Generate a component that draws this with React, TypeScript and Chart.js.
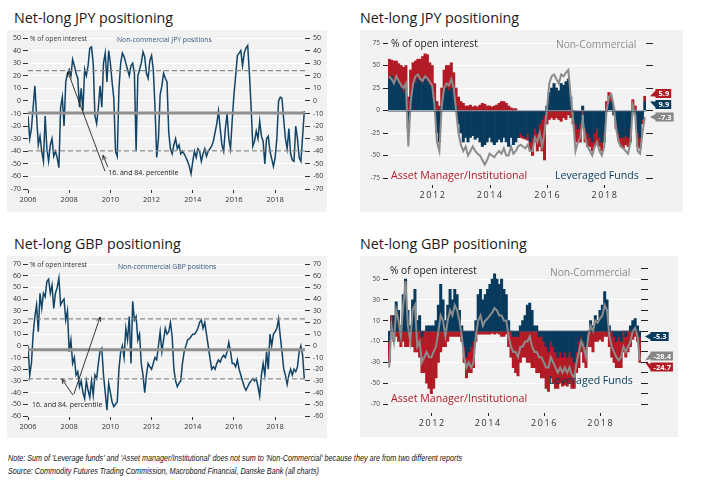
import React, { useEffect, useRef } from "react";
import { Chart, registerables } from "chart.js";

Chart.register(...registerables);

// ---------------- data ----------------
const leftYearTicks = [2006, 2008, 2010, 2012, 2014, 2016, 2018];
const rightYearTicks = [2012, 2014, 2016, 2018];
const leftFirstMonth = 2006; // Jan 2006, monthly observations
const rightFirstMonth = 2010.5; // Jul 2010, monthly observations

// Non-commercial JPY positions, % of open interest (Jan 2006 - Jun 2019)
const jpyNonCommercialLong = [
  -12, -30, -22, -5, 12, -12, -35, -28, -40, -48, -12, -38,
  -48, -35, -30, -44, -40, -45, -53, -5, 3, -20, 15, 22,
  25, 20, 33, 28, 22, 18, -5, 10, -8, 25, 20, 28,
  42, 43, 30, -12, -18, -5, 12, -5, 30, 38, 15, 40,
  30, 15, 2, -40, -44, 10, 30, 38, 35, 30, 25, 20,
  28, 30, 22, -40, 20, 25, 30, 39, 35, 22, 18, 32,
  36, 25, -5, -45, -30, 5, 12, 22, 18, 15, -25, -38,
  -42, -35, -30, -38, -35, -42, -40, -42, -45, -48, -52, -58,
  -48, -40, -45, -38, -40, -48, -42, -38, -44, -40, -38, -36,
  -32, -25, -18, -8, -22, -35, -40, -22, -10, -30, -38, -15,
  5, 20, 36, 38, 40, 28, 38, 42, 44, 22, -5, -36,
  -32, -24, -30, -16, -28, -32, -50, -30, -28, -40, -46, -52,
  -45, -30, 0, 3, 2, -15, -30, -38, -22, -42, -47, -48,
  -20, -30, -45, -48, -28, -8,
];
const jpyPercentile84 = 24;
const jpyPercentile16 = -39.7;
const jpyAverage = -9.7;

// Non-commercial GBP positions, % of open interest (Jan 2006 - Jun 2019)
const gbpNonCommercialLong = [
  0, -25, -15, 10, 25, 35, 12, 45, 32, 45, 42, 55,
  57, 45, 52, 32, 45, 50, 58, 35, 38, 40, 22, 30,
  -5, 5, -15, -10, -25, -22, -35, -30, -40, -45, -30, -38,
  -44, -30, -42, -25, -28, -15, -4, -2, -25, -40, -55, -32,
  -40, -48, -52, -50, -48, -20, -5, 0, -10, 15, 5, 25,
  -15, 38, 22, 25, 5, 10, -15, -25, -40, -25, -15, -18,
  -20, -15, -10, -12, 0, 12, -5, 5, 15, 10, 12, 20,
  8, -20, -30, -35, -32, -30, -15, -5, 0, 5, 6, 8,
  10, 10, 12, 15, 20, 22, 15, 20, 10, 0, -10, -20,
  -18, -20, -15, -12, -14, -10, -8, -10, -5, 3, -5, -15,
  -15, -18, -12, -20, -25, -30, -35, -38, -35, -32, -30, -28,
  -30, -28, -35, -43, -25, -15, -25, -5, -20, 10, 0, 10,
  12, 15, 23, 8, -5, -20, -25, -33, -25, -20, -25, -20,
  -22, -18, -5, 0, -8, -28,
];
const gbpPercentile84 = 23.1;
const gbpPercentile16 = -28.3;
const gbpAverage = -3.4;

// JPY, % of open interest (Jul 2010 - Jun 2019)
const jpyLeveragedFunds = [
  35, 38, 30, 35, 30, 25,
  20, 25, -20, 15, 25, 30, 35, 32, 30, 35, 32, 28,
  25, 10, -25, -35, 5, 20, 25, 22, 25, 20, 5, -15,
  -25, -35, -30, -35, -30, -28, -32, -30, -35, -40, -38, -35,
  -30, -35, -38, -35, -32, -35, -30, -35, -40, -30, -38, -35,
  -30, -25, -28, -30, -25, -35, -30, -20, -25, -15, -10, -5,
  5, 20, 25, 30, 25, 22, 30, 28, 32, 35, 15, 0,
  -15, -20, -15, 5, -20, -25, -30, -35, -25, -20, -30, -35,
  -25, 0, 8, 10, -5, -15, -25, -30, -30, -28, -30, -20,
  0, -5, -25, -30, -10, 9.9,
];
const jpyAssetManager = [
  22, 18, 25, 20, 22, 25,
  28, 25, 15, 30, 28, 25, 22, 25, 30, 28, 30, 25,
  25, 20, 10, 5, 20, 25, 25, 28, 28, 22, 20, 15,
  10, 8, 5, 5, 6, 4, 5, 4, 6, 8, 7, 5,
  5, 4, 5, 6, 8, 10, 10, 8, 5, 3, 2, 2,
  0, -5, -3, -2, -8, -10, -20, -15, -20, -25, -35, -50,
  -15, -10, -8, -10, -8, -10, -12, -8, -10, -5, -8, -15,
  -20, -15, -20, -5, -15, -15, -10, -10, -15, -15, -10, -10,
  -10, 10, 12, 5, 2, -5, -8, -10, -12, -10, -10, -15,
  12, 5, -15, -12, -5, 5.9,
];
const jpyNonCommercial = [
  38, 35, 30, 38, 33, 28,
  25, 30, -40, 10, 30, 38, 40, 35, 33, 38, 36, 32,
  28, 5, -35, -45, 5, 25, 30, 28, 35, 25, 0, -25,
  -38, -45, -40, -50, -45, -40, -45, -48, -50, -55, -60, -55,
  -48, -50, -52, -48, -45, -48, -42, -50, -50, -40, -48, -45,
  -40, -38, -40, -42, -38, -45, -45, -30, -35, -25, -40, -25,
  0, 30, 38, 40, 35, 30, 40, 38, 42, 45, 15, -10,
  -45, -35, -30, -10, -30, -40, -45, -50, -40, -35, -45, -50,
  -40, 0, 15, 18, 5, -20, -35, -40, -42, -45, -48, -35,
  5, -5, -45, -48, -25, -7.3,
];

// GBP, % of open interest (Jul 2010 - Jun 2019)
const gbpLeveragedFunds = [
  -10, 5, 15, 28, 20, 5,
  35, 50, 20, 5, 30, 40, 10, 15, -5, 0, 5, 5,
  5, 5, 10, 25, 45, 30, 10, 25, 40, 30, 40, 35,
  20, 5, -15, -25, -20, -15, -10, 10, 35, 40, 30, 35,
  40, 45, 50, 55, 50, 45, 50, 40, 35, 10, 0, -5,
  -5, -5, 5, 10, 15, 25, 27, 20, 5, 5, -5, -5,
  -10, -15, -20, -10, -15, -20, -25, -20, -25, -20, -25, -20,
  -25, -30, -20, -10, -5, -10, -15, 0, 10, 5, 15, 10,
  20, 25, 38, 30, 5, 0, -5, -10, -5, -10, 0, -5,
  0, 5, 10, 12, 5, -5.3,
];
const gbpAssetManager = [
  -20, 10, -10, -5, -10, -15,
  -10, -15, -15, -10, -15, -20, -20, -25, -35, -40, -50, -55,
  -60, -55, -45, -30, -20, -15, -15, -10, -5, -5, -5, -5,
  -5, -10, -15, -20, -20, -25, -25, -10, -3, -3, -3, -3,
  -3, -3, -2, -3, -2, -3, -5, -5, -3, -15, -25, -30,
  -35, -38, -30, -25, -25, -30, -30, -35, -35, -40, -35, -40,
  -35, -40, -38, -35, -35, -35, -30, -30, -28, -32, -28, -30,
  -30, -25, -20, -25, -15, -20, -20, -15, -15, -20, -10, -10,
  -8, -10, -5, -5, -15, -25, -25, -25, -30, -25, -20, -20,
  -20, -15, -8, -5, -10, -24.7,
];
const gbpNonCommercial = [
  -35, 5, -10, 20, 10, -5,
  25, 48, 5, -10, 20, 25, -15, -10, -30, -25, -20, -25,
  -25, -20, -15, 0, 15, 10, -5, 10, 20, 15, 25, 20,
  10, -5, -25, -35, -30, -35, -30, -5, 10, 15, 5, 10,
  12, 15, 18, 22, 20, 15, 15, 10, 10, -5, -15, -20,
  -20, -25, -15, -15, -10, -10, -5, -15, -20, -20, -25, -25,
  -30, -35, -35, -25, -30, -35, -40, -35, -40, -35, -40, -35,
  -42, -45, -30, -20, -10, -15, -25, -5, 5, 0, 10, 8,
  12, 15, 25, 20, -5, -15, -20, -25, -28, -25, -15, -20,
  -15, -10, 0, 3, -5, -28.4,
];

// ---------------- styles ----------------
const FONT = '"Open Sans", "DejaVu Sans", sans-serif';
const NAVY = "#073a5c";
const NAVY_LINE = "#124467";
const RED = "#b21b25";
const GRAY = "#8c8c8c";
const PANEL = "#f2f2f2";

function drawArrow(ctx: CanvasRenderingContext2D, x0: number, y0: number, x1: number, y1: number) {
  ctx.beginPath();
  ctx.moveTo(x0, y0);
  ctx.lineTo(x1, y1);
  ctx.stroke();
  const a = Math.atan2(y1 - y0, x1 - x0);
  const L = 5;
  const s = 0.42;
  ctx.beginPath();
  ctx.moveTo(x1 - L * Math.cos(a - s), y1 - L * Math.sin(a - s));
  ctx.lineTo(x1, y1);
  ctx.lineTo(x1 - L * Math.cos(a + s), y1 - L * Math.sin(a + s));
  ctx.stroke();
}

type LeftSpec = {
  values: number[];
  p84: number;
  p16: number;
  avg: number;
  yMin: number;
  yMax: number;
  xMax: number;
  top: number;
  xHeight: number;
  arrows: number[][];
  noteAt: number[];
};

function leftConfig(s: LeftSpec): any {
  const flat = (v: number) => [
    { x: leftFirstMonth, y: v },
    { x: s.xMax, y: v },
  ];
  const tickFont = { family: FONT, size: 7 };
  const notePlugin = {
    id: "note",
    afterDatasetsDraw(chart: any) {
      const { ctx } = chart;
      const x = chart.scales.x;
      const y = chart.scales.y;
      ctx.save();
      ctx.strokeStyle = "#222";
      ctx.lineWidth = 0.9;
      for (const [x0, y0, x1, y1] of s.arrows) {
        drawArrow(ctx, x.getPixelForValue(x0), y.getPixelForValue(y0), x.getPixelForValue(x1), y.getPixelForValue(y1));
      }
      ctx.fillStyle = "#222";
      ctx.font = `7px ${FONT}`;
      ctx.textBaseline = "middle";
      ctx.textAlign = "left";
      ctx.fillText("16. and 84. percentile", x.getPixelForValue(s.noteAt[0]), y.getPixelForValue(s.noteAt[1]));
      ctx.restore();
    },
  };
  return {
    type: "line",
    data: {
      datasets: [
        {
          data: s.values.map((v, i) => ({ x: leftFirstMonth + i / 12, y: v })),
          borderColor: NAVY_LINE,
          borderWidth: 1.5,
          pointRadius: 0,
          tension: 0,
          order: 3,
        },
        { data: flat(s.p84), borderColor: "#8a8a8a", borderWidth: 1.3, borderDash: [5, 3], pointRadius: 0, order: 2 },
        { data: flat(s.p16), borderColor: "#8a8a8a", borderWidth: 1.3, borderDash: [5, 3], pointRadius: 0, order: 2 },
        { data: flat(s.avg), borderColor: "#8f8f8f", borderWidth: 3, pointRadius: 0, order: 1 },
      ],
    },
    options: {
      responsive: false,
      animation: false,
      devicePixelRatio: 1,
      events: [],
      layout: { padding: { top: s.top, left: 0, right: 0, bottom: 0 } },
      plugins: { legend: { display: false }, tooltip: { enabled: false } },
      scales: {
        x: {
          type: "linear",
          min: leftFirstMonth,
          max: s.xMax,
          afterBuildTicks: (sc: any) => {
            sc.ticks = leftYearTicks.map((v) => ({ value: v }));
          },
          afterFit: (sc: any) => {
            sc.height = s.xHeight;
            sc.paddingLeft = 0;
            sc.paddingRight = 0;
          },
          grid: { drawOnChartArea: false, drawTicks: true, tickLength: 4, tickColor: "#333" },
          border: { display: false },
          ticks: {
            font: { family: FONT, size: 7.5 },
            color: "#333",
            padding: 2,
            maxRotation: 0,
            autoSkip: false,
            callback: (v: any) => String(v),
          },
        },
        y: {
          position: "left",
          min: s.yMin,
          max: s.yMax,
          ticks: { stepSize: 10, font: tickFont, color: "#333", padding: 2 },
          grid: { color: "#ffffff", lineWidth: 1, tickColor: "#333", tickLength: 5 },
          border: { display: false },
          afterFit: (sc: any) => {
            sc.width = 21;
            sc.paddingTop = 0;
            sc.paddingBottom = 0;
          },
        },
        y2: {
          position: "right",
          min: s.yMin,
          max: s.yMax,
          ticks: { stepSize: 10, font: tickFont, color: "#333", padding: 3 },
          grid: { drawOnChartArea: false, tickColor: "#333", tickLength: 5 },
          border: { display: false },
          afterFit: (sc: any) => {
            sc.width = 22;
            sc.paddingTop = 0;
            sc.paddingBottom = 0;
          },
        },
      },
    },
    plugins: [notePlugin],
  };
}

type RightSpec = {
  lf: number[];
  am: number[];
  nc: number[];
  yMin: number;
  yMax: number;
  step: number;
  labelIf: (v: number) => boolean;
  top: number;
  leftW: number;
  rightW: number;
  xHeight: number;
  labelDy: number;
};

function rightConfig(s: RightSpec): any {
  const n = s.lf.length;
  const xs = s.lf.map((_, i) => rightFirstMonth + i / 12);
  const lastLF = s.lf[n - 1];
  const lastAM = s.am[n - 1];
  const lastNC = s.nc[n - 1];
  const amLevel = Math.sign(lastAM) === Math.sign(lastLF) ? lastAM + lastLF : lastAM;
  const tags = [
    { level: lastLF, text: lastLF.toFixed(1), color: NAVY },
    { level: amLevel, text: lastAM.toFixed(1), color: RED },
    { level: lastNC, text: lastNC.toFixed(1), color: "#878787" },
  ];
  const extras = {
    id: "extras",
    afterDatasetsDraw(chart: any) {
      const { ctx, chartArea } = chart;
      const y = chart.scales.y;
      const x = chart.scales.x;
      ctx.save();
      // zero line
      const y0 = Math.round(y.getPixelForValue(0)) + 0.5;
      ctx.strokeStyle = "rgba(80,80,100,0.75)";
      ctx.lineWidth = 0.8;
      ctx.beginPath();
      ctx.moveTo(chartArea.left, y0);
      ctx.lineTo(chartArea.right, y0);
      ctx.stroke();
      // year labels and their small tick marks
      ctx.strokeStyle = "#222";
      ctx.lineWidth = 1;
      for (const yr of rightYearTicks) {
        const px = Math.round(x.getPixelForValue(yr)) + 0.5;
        ctx.beginPath();
        ctx.moveTo(px, chartArea.bottom + s.labelDy - 10);
        ctx.lineTo(px, chartArea.bottom + s.labelDy - 7);
        ctx.stroke();
      }
      ctx.fillStyle = "#333";
      ctx.font = `9px ${FONT}`;
      (ctx as any).letterSpacing = "1.6px";
      ctx.textAlign = "center";
      ctx.textBaseline = "middle";
      for (const yr of rightYearTicks) {
        ctx.fillText(String(yr), x.getPixelForValue(yr) + 0.8, chartArea.bottom + s.labelDy);
      }
      (ctx as any).letterSpacing = "0px";
      // last-value tags
      const items = tags
        .map((t) => ({ ...t, py: y.getPixelForValue(t.level), cy: y.getPixelForValue(t.level) }))
        .sort((a, b) => a.py - b.py);
      const gap = 11;
      for (let k = 0; k < 40; k++) {
        for (let i = 1; i < items.length; i++) {
          if (items[i].cy - items[i - 1].cy < gap) {
            const m = (items[i].cy + items[i - 1].cy) / 2;
            items[i - 1].cy = m - gap / 2;
            items[i].cy = m + gap / 2;
          }
        }
      }
      ctx.font = `bold 7.5px ${FONT}`;
      for (const it of items) {
        const w = ctx.measureText(it.text).width + 5;
        const h = 9;
        const bx = chartArea.right + 9.5;
        const tip = chartArea.right + 4;
        ctx.fillStyle = it.color;
        ctx.beginPath();
        ctx.moveTo(tip, it.py);
        ctx.lineTo(bx, it.cy - 3);
        ctx.lineTo(bx, it.cy - h / 2);
        ctx.lineTo(bx + w, it.cy - h / 2);
        ctx.lineTo(bx + w, it.cy + h / 2);
        ctx.lineTo(bx, it.cy + h / 2);
        ctx.lineTo(bx, it.cy + 3);
        ctx.closePath();
        ctx.fill();
        ctx.fillStyle = "#ffffff";
        ctx.textAlign = "right";
        ctx.textBaseline = "middle";
        ctx.fillText(it.text, bx + w - 2, it.cy + 0.5);
      }
      ctx.restore();
    },
  };
  const barBase = { type: "bar", barPercentage: 1, categoryPercentage: 1, borderWidth: 0, order: 2, yAxisID: "y" };
  return {
    type: "bar",
    data: {
      datasets: [
        { ...barBase, data: s.lf.map((v, i) => ({ x: xs[i], y: v })), backgroundColor: NAVY },
        { ...barBase, data: s.am.map((v, i) => ({ x: xs[i], y: v })), backgroundColor: RED },
        {
          type: "line",
          data: s.nc.map((v, i) => ({ x: xs[i], y: v })),
          borderColor: GRAY,
          borderWidth: 2,
          pointRadius: 0,
          tension: 0,
          order: 1,
          yAxisID: "yl",
        },
      ],
    },
    options: {
      responsive: false,
      animation: false,
      devicePixelRatio: 1,
      events: [],
      layout: { padding: { top: s.top, left: 0, right: 0, bottom: 0 } },
      plugins: { legend: { display: false }, tooltip: { enabled: false } },
      scales: {
        x: {
          type: "linear",
          offset: false,
          stacked: true,
          min: xs[0] - 1 / 24,
          max: xs[n - 1] + 1 / 24,
          afterBuildTicks: (sc: any) => {
            sc.ticks = rightYearTicks.map((v) => ({ value: v }));
          },
          afterFit: (sc: any) => {
            sc.height = s.xHeight;
            sc.paddingLeft = 0;
            sc.paddingRight = 0;
          },
          grid: { display: false },
          border: { display: false },
          ticks: { display: false },
        },
        y: {
          position: "left",
          stacked: true,
          min: s.yMin,
          max: s.yMax,
          ticks: {
            stepSize: s.step,
            font: { family: FONT, size: 6.5 },
            color: "#444",
            padding: 3,
            callback: (v: any) => (s.labelIf(v) ? String(v) : ""),
          },
          grid: { color: "#ffffff", lineWidth: 1, tickColor: "#222", tickLength: 5 },
          border: { display: false },
          afterFit: (sc: any) => {
            sc.width = s.leftW;
            sc.paddingTop = 0;
            sc.paddingBottom = 0;
          },
        },
        yr: {
          position: "right",
          min: s.yMin,
          max: s.yMax,
          ticks: { stepSize: s.step, display: false },
          grid: { drawOnChartArea: false, tickColor: "#222", tickLength: 7 },
          border: { display: false },
          afterFit: (sc: any) => {
            sc.width = s.rightW;
            sc.paddingTop = 0;
            sc.paddingBottom = 0;
          },
        },
        yl: { display: false, min: s.yMin, max: s.yMax },
      },
    },
    plugins: [extras],
  };
}

function Panel(props: { left: number; top: number; width: number; height: number; config: () => any }) {
  const ref = useRef<HTMLCanvasElement>(null);
  useEffect(() => {
    const chart = new Chart(ref.current as HTMLCanvasElement, props.config());
    return () => chart.destroy();
  }, []);
  return (
    <div
      style={{
        position: "absolute",
        left: props.left,
        top: props.top,
        width: props.width,
        height: props.height,
        background: PANEL,
      }}
    >
      <canvas
        ref={ref}
        width={props.width}
        height={props.height}
        style={{ display: "block", width: props.width, height: props.height }}
      />
    </div>
  );
}

function Txt(props: { x: number; y: number; size: number; color: string; children: any; weight?: number }) {
  return (
    <div
      style={{
        position: "absolute",
        left: props.x,
        top: props.y - props.size * 0.7,
        fontFamily: FONT,
        fontSize: props.size,
        lineHeight: `${props.size * 1.4}px`,
        color: props.color,
        whiteSpace: "nowrap",
        fontWeight: props.weight || 400,
      }}
    >
      {props.children}
    </div>
  );
}

export default function App() {
  const jpyLeft: LeftSpec = {
    values: jpyNonCommercialLong,
    p84: jpyPercentile84,
    p16: jpyPercentile16,
    avg: jpyAverage,
    yMin: -70,
    yMax: 50,
    xMax: 2019.45,
    top: 8,
    xHeight: 23,
    arrows: [
      [2009.74, -55.9, 2007.94, 22.9],
      [2009.88, -52.7, 2009.64, -43.2],
    ],
    noteAt: [2009.9, -57.5],
  };
  const gbpLeft: LeftSpec = {
    values: gbpNonCommercialLong,
    p84: gbpPercentile84,
    p16: gbpPercentile16,
    avg: gbpAverage,
    yMin: -60,
    yMax: 70,
    xMax: 2019.45,
    top: 8,
    xHeight: 22,
    arrows: [
      [2008.18, -42.1, 2007.65, -28.4],
      [2008.23, -41.2, 2009.5, 24.7],
    ],
    noteAt: [2006.2, -50.6],
  };
  const jpyRight: RightSpec = {
    lf: jpyLeveragedFunds,
    am: jpyAssetManager,
    nc: jpyNonCommercial,
    yMin: -75,
    yMax: 75,
    step: 25,
    labelIf: () => true,
    top: 13,
    leftW: 28,
    rightW: 37,
    xHeight: 34,
    labelDy: 17,
  };
  const gbpRight: RightSpec = {
    lf: gbpLeveragedFunds,
    am: gbpAssetManager,
    nc: gbpNonCommercial,
    yMin: -70,
    yMax: 60,
    step: 10,
    labelIf: (v: number) => Math.abs(v % 20) === 10,
    top: 12.6,
    leftW: 28,
    rightW: 37,
    xHeight: 33,
    labelDy: 19,
  };

  const titleStyle = (x: number, y: number): any => ({
    position: "absolute",
    left: x,
    top: y,
    fontFamily: FONT,
    fontSize: 14.3,
    lineHeight: "16px",
    color: "#1a1a1a",
    whiteSpace: "nowrap",
  });

  return (
    <div style={{ position: "absolute", left: 0, top: 0, width: 706, height: 488, background: "#fff", overflow: "hidden" }}>
      <div style={titleStyle(14, 10)}>Net-long JPY positioning</div>
      <div style={titleStyle(360, 10)}>Net-long JPY positioning</div>
      <div style={titleStyle(14, 236)}>Net-long GBP positioning</div>
      <div style={titleStyle(360, 236)}>Net-long GBP positioning</div>

      <Panel left={7} top={30} width={320} height={182} config={() => leftConfig(jpyLeft)} />
      <Panel left={360} top={30} width={323} height={182} config={() => rightConfig(jpyRight)} />
      <Panel left={7} top={256} width={320} height={182} config={() => leftConfig(gbpLeft)} />
      <Panel left={360} top={256} width={318} height={181} config={() => rightConfig(gbpRight)} />

      <Txt x={30} y={39} size={6.7} color="#333">% of open interest</Txt>
      <Txt x={117} y={40} size={6.8} color="#34557f">Non-commercial JPY positions</Txt>
      <Txt x={30} y={265} size={6.7} color="#333">% of open interest</Txt>
      <Txt x={118} y={267} size={6.8} color="#34557f">Non-commercial GBP positions</Txt>

      <Txt x={391} y={43} size={10.2} color="#222">% of open interest</Txt>
      <Txt x={556} y={44} size={10.2} color="#8a8a8a">Non-Commercial</Txt>
      <Txt x={391} y={175} size={10.6} color={RED}>Asset Manager/Institutional</Txt>
      <Txt x={555} y={175} size={10.6} color={NAVY}>Leveraged Funds</Txt>

      <Txt x={390} y={270} size={10.2} color="#222">% of open interest</Txt>
      <Txt x={550} y={272} size={10.2} color="#8a8a8a">Non-Commercial</Txt>
      <Txt x={549} y={380} size={10.6} color={NAVY}>Leveraged Funds</Txt>
      <Txt x={391} y={398} size={10.6} color={RED}>Asset Manager/Institutional</Txt>

      <div
        style={{
          position: "absolute",
          left: 8,
          top: 452,
          fontFamily: '"Liberation Sans", "DejaVu Sans", sans-serif',
          fontStyle: "italic",
          fontSize: 8.8,
          lineHeight: "13px",
          color: "#111",
          whiteSpace: "nowrap",
          transform: "scaleX(0.82)",
          transformOrigin: "0 0",
        }}
      >
        <div>
          Note: Sum of 'Leverage funds' and 'Asset manager/Institutional' does not sum to 'Non-Commercial' because they are from two different reports
        </div>
        <div>Source: Commodity Futures Trading Commission, Macrobond Financial, Danske Bank (all charts)</div>
      </div>
    </div>
  );
}
